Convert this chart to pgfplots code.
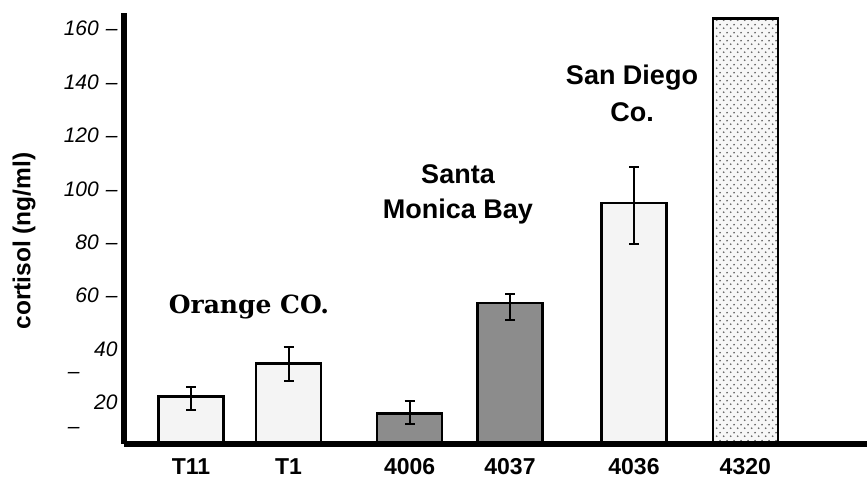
\documentclass[border=0pt]{standalone}
\usepackage{pgfplots}
\pgfplotsset{compat=1.18}
\usepackage{fontspec}
\setmainfont{Liberation Sans}
\newfontfamily\serifbold{DejaVu Serif}
\usetikzlibrary{patterns.meta}
\definecolor{lightbar}{HTML}{F4F4F4}
\definecolor{darkbar}{HTML}{8C8C8C}
\definecolor{dotcol}{HTML}{606060}
\tikzdeclarepattern{name=mydots, type=uncolored,
  bounding box={(0pt,0pt) and (7.3pt,8pt)}, tile size={(7.3pt,8pt)},
  code={\fill (1.8pt,2pt) circle (1pt); \fill (5.45pt,6pt) circle (1pt);}}
\begin{document}
\begin{tikzpicture}
\begin{axis}[
  at={(124pt,34pt)}, anchor=south west,
  scale only axis, width=743pt, height=431pt,
  xmin=124, xmax=867, ymin=4.5, ymax=165.8,
  axis x line=bottom, axis y line=left,
  axis line style={line width=5.5pt, -},
  x axis line style={-}, y axis line style={-},
  axis on top=true,
  clip mode=individual,
  xtick={191,288.5,409.7,510,634,745.3},
  xticklabels={T11,T1,4006,4037,4036,4320},
  ytick={20,40,60,80,100,120,140,160},
  yticklabels={20\hspace{15pt},40\hspace{15pt},60\hspace{7pt}--,80\hspace{7pt}--,100\hspace{7pt}--,120\hspace{7pt}--,140\hspace{7pt}--,160\hspace{7pt}--},
  extra y ticks={30.3,9.7},
  extra y tick labels={--,--},
  extra y tick style={yticklabel style={xshift=-38pt}},
  major tick length=0pt,
  tick style={draw=none},
  xticklabel style={font=\bfseries\fontsize{23}{23}\selectfont, anchor=base, yshift=-30.5pt},
  yticklabel style={font=\itshape\fontsize{21}{21}\selectfont, xshift=-3pt},
  /pgf/number format/assume math mode=true,
  ylabel={cortisol (ng/ml)},
  ylabel style={font=\bfseries\fontsize{24.5}{24.5}\selectfont, at={(rel axis cs:-0.1346,0.471)}, anchor=center},
]
\addplot[ybar, bar width=65, bar shift=0pt, fill=lightbar, draw=black, line width=2.5pt,
  error bars/.cd, y dir=both, y explicit,
  error bar style={line width=2pt, black},
  error mark options={rotate=90, mark size=5pt, line width=2pt, black}]
coordinates {
  (191,22.2) += (0,3.5) -= (0,4.9)
  (288.5,34.7) += (0,6.2) -= (0,6.5)
  (634,94.6) += (0,13.7) -= (0,15.3)
};
\addplot[ybar, bar width=65, bar shift=0pt, fill=darkbar, draw=black, line width=2.5pt,
  error bars/.cd, y dir=both, y explicit,
  error bar style={line width=2pt, black},
  error mark options={rotate=90, mark size=5pt, line width=2pt, black}]
coordinates {
  (409.7,16.0) += (0,4.6) -= (0,3.9)
  (510,57.2) += (0,3.5) -= (0,6.25)
};
\addplot[ybar, bar width=65, bar shift=0pt, fill=white!97!black, postaction={pattern={mydots}, pattern color=dotcol}, draw=black, line width=2.5pt]
coordinates {(745.3,163.8)};
\node[font=\serifbold\bfseries\fontsize{25}{25}\selectfont] at (axis cs:249,55.8) {Orange CO.};
\node[font=\bfseries\fontsize{27}{35}\selectfont, align=center] at (axis cs:458,97.9) {Santa\\Monica Bay};
\node[font=\bfseries\fontsize{27}{37}\selectfont, align=center] at (axis cs:632,135.7) {San Diego\\Co.};
\end{axis}
\pgfresetboundingbox
\path[use as bounding box] (0,0) rectangle (867pt,478pt);
\end{tikzpicture}
\end{document}
